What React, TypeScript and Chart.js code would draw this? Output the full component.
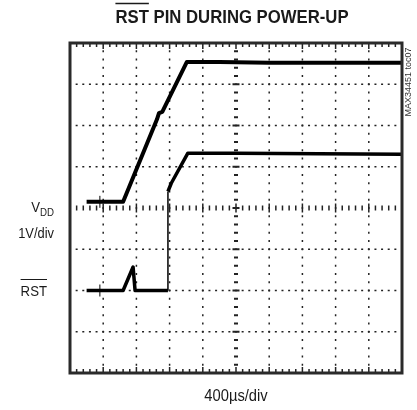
import React, { useEffect, useRef } from "react";
import { Chart, registerables } from "chart.js";

Chart.register(...registerables);

// time axis in divisions (400µs/div), voltage axis in divisions (1V/div)
const vddTime = [0.5, 1.6, 2.62, 2.68, 2.78, 3.52, 4.5, 6, 8, 10];
const vddLevel = [4.15, 4.15, 6.15, 6.3, 6.33, 7.54, 7.54, 7.52, 7.52, 7.52];

const rstTime = [0.5, 1.6, 1.9, 1.96, 2.95, 2.95, 3.05, 3.55, 5, 10];
const rstLevel = [2.0, 2.0, 2.57, 2.0, 2.0, 4.4, 4.6, 5.33, 5.33, 5.3];

const markerTime = [0.9, 0.9];
const markerLevel = [4.15, 2.0];

const xDivisions = 10;
const yDivisions = 8;
const minorPerDiv = 5;

const titleText = "RST PIN DURING POWER-UP";
const timeLabel = "400µs/div";
const voltLabel = "1V/div";
const sideNote = "MAX34451 toc07";

const FONT = "'Liberation Sans', Arial, sans-serif";

function drawText(ctx: any, text: string, x: number, y: number, font: string, sx: number, align: string) {
  ctx.save();
  ctx.font = font;
  const w = ctx.measureText(text).width * sx;
  let left = x;
  if (align === "center") left = x - w / 2;
  else if (align === "right") left = x - w;
  ctx.translate(left, y);
  ctx.scale(sx, 1);
  ctx.textAlign = "left";
  ctx.fillText(text, 0, 0);
  ctx.restore();
  return { left, width: w };
}

const gridPlugin = {
  id: "scopeGrid",
  beforeDatasetsDraw(chart: any) {
    const { ctx, chartArea, scales } = chart;
    const { top, bottom } = chartArea;
    const xs = scales.x;
    const ys = scales.y;
    ctx.save();
    ctx.fillStyle = "#222";
    for (let i = 1; i < xDivisions; i++) {
      if (i === xDivisions / 2) continue;
      const px = xs.getPixelForValue(i);
      for (let j = 1; j < yDivisions * minorPerDiv; j++) {
        const py = ys.getPixelForValue(j / minorPerDiv);
        ctx.fillRect(px - 0.75, py - 1, 1.5, 2);
      }
    }
    for (let k = 1; k < yDivisions; k++) {
      if (k === yDivisions / 2) continue;
      const py = ys.getPixelForValue(k);
      for (let j = 1; j < xDivisions * minorPerDiv; j++) {
        const px = xs.getPixelForValue(j / minorPerDiv);
        ctx.fillRect(px - 1, py - 0.75, 2, 1.5);
      }
    }
    const cy = ys.getPixelForValue(yDivisions / 2);
    for (let j = 1; j < xDivisions * minorPerDiv; j++) {
      const px = xs.getPixelForValue(j / minorPerDiv);
      const major = j % minorPerDiv === 0;
      const h = major ? 9 : 5;
      ctx.fillRect(px - 0.75, cy - h / 2, 1.5, h);
    }
    const cx = xs.getPixelForValue(xDivisions / 2);
    for (let j = 1; j < yDivisions * minorPerDiv; j++) {
      const py = ys.getPixelForValue(j / minorPerDiv);
      const major = j % minorPerDiv === 0;
      const w = major ? 7 : 4;
      ctx.fillRect(cx - w / 2, py - 1, w, 2);
    }
    for (let j = 1; j < xDivisions * minorPerDiv; j++) {
      const px = xs.getPixelForValue(j / minorPerDiv);
      const major = j % minorPerDiv === 0;
      const h = major ? 6 : 4;
      ctx.fillRect(px - 0.75, top, 1.5, h);
      ctx.fillRect(px - 0.75, bottom - h, 1.5, h);
    }
    ctx.restore();
  },
  afterDraw(chart: any) {
    const { ctx, chartArea } = chart;
    const { left, right, top, bottom } = chartArea;
    ctx.save();
    ctx.strokeStyle = "#2a2a2a";
    ctx.lineWidth = 3;
    ctx.strokeRect(left, top, right - left, bottom - top);

    ctx.fillStyle = "#1a1a1a";
    ctx.strokeStyle = "#1a1a1a";
    ctx.textBaseline = "alphabetic";

    const tFont = `bold 19px ${FONT}`;
    const t = drawText(ctx, titleText, 232, 23, tFont, 0.88, "center");
    ctx.font = tFont;
    const rw = ctx.measureText("RST").width * 0.88;
    ctx.lineWidth = 1.5;
    ctx.beginPath();
    ctx.moveTo(t.left, 3.5);
    ctx.lineTo(t.left + rw, 3.5);
    ctx.stroke();

    const labelRight = 54;
    const mainFont = `15px ${FONT}`;
    const subFont = `11px ${FONT}`;
    const sub = drawText(ctx, "DD", labelRight, 216, subFont, 0.88, "right");
    drawText(ctx, "V", sub.left, 212, mainFont, 0.88, "right");
    drawText(ctx, voltLabel, labelRight, 238, mainFont, 0.86, "right");

    const r = drawText(ctx, "RST", 47, 296, mainFont, 0.88, "right");
    ctx.lineWidth = 1;
    ctx.beginPath();
    ctx.moveTo(r.left, 279.5);
    ctx.lineTo(r.left + r.width, 279.5);
    ctx.stroke();

    drawText(ctx, timeLabel, (left + right) / 2, 401, `16px ${FONT}`, 0.92, "center");

    ctx.font = `9px ${FONT}`;
    ctx.translate(409, 82);
    ctx.rotate(-Math.PI / 2);
    ctx.textAlign = "center";
    ctx.textBaseline = "middle";
    ctx.fillStyle = "#333";
    ctx.fillText(sideNote, 0, 0);
    ctx.restore();
    void top;
    void bottom;
  },
};

export default function App() {
  const ref = useRef<HTMLCanvasElement | null>(null);
  useEffect(() => {
    if (!ref.current) return;
    const toPts = (xs: number[], ys: number[]) => xs.map((v, i) => ({ x: v, y: ys[i] }));
    const chart = new Chart(ref.current, {
      type: "scatter",
      data: {
        datasets: [
          {
            label: "VDD",
            data: toPts(vddTime, vddLevel),
            showLine: true,
            borderColor: "#000",
            borderWidth: 4,
            pointRadius: 0,
            tension: 0,
            borderJoinStyle: "round",
          },
          {
            label: "RST",
            data: toPts(rstTime, rstLevel),
            showLine: true,
            borderColor: "#000",
            borderWidth: 3.5,
            pointRadius: 0,
            tension: 0,
            borderJoinStyle: "round",
            segment: {
              borderWidth: (c: any) => (c.p0.parsed.x === c.p1.parsed.x ? 1.5 : 3.5),
            },
          },
          {
            label: "trigger",
            data: toPts(markerTime, markerLevel),
            showLine: false,
            pointStyle: "line",
            rotation: 90,
            pointRadius: 6,
            borderColor: "#000",
            borderWidth: 1,
          },
        ],
      } as any,
      options: {
        responsive: false,
        animation: false,
        layout: { padding: { left: 70, right: 15, top: 43, bottom: 37 } },
        plugins: { legend: { display: false }, tooltip: { enabled: false }, title: { display: false } },
        events: [],
        scales: {
          x: { type: "linear", min: 0, max: xDivisions, display: false },
          y: { type: "linear", min: 0, max: yDivisions, display: false },
        },
      } as any,
      plugins: [gridPlugin],
    });
    return () => chart.destroy();
  }, []);
  return (
    <div style={{ position: "absolute", left: 0, top: 0, width: 417, height: 410, background: "#fff" }}>
      <canvas ref={ref} width={417} height={410} style={{ display: "block" }} />
    </div>
  );
}
